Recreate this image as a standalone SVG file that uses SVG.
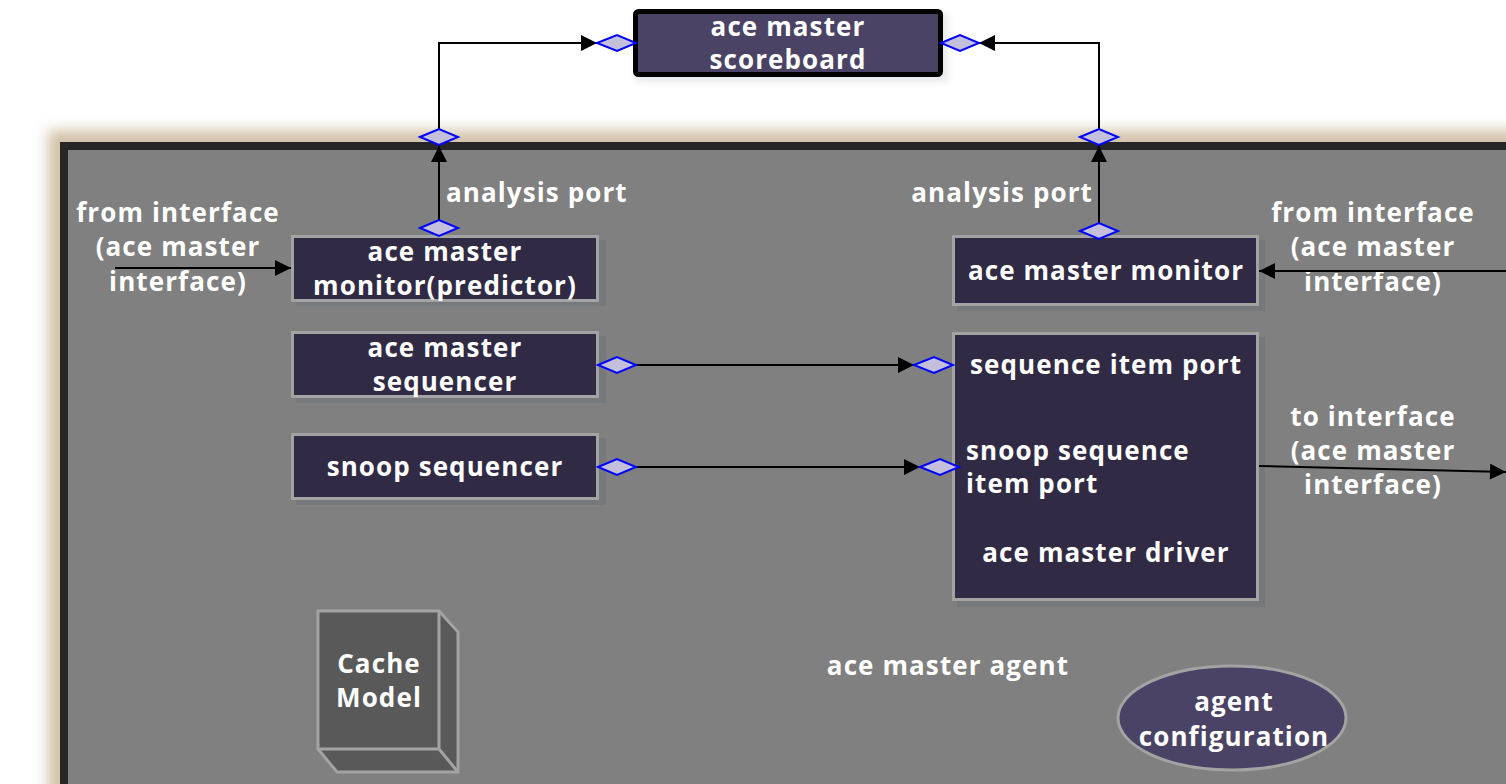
<svg xmlns="http://www.w3.org/2000/svg" width="1506" height="784" viewBox="0 0 1506 784">
  <defs>
    <style>
      text { font-family: "Open Sans", "Liberation Sans", sans-serif; font-weight: bold; font-size: 26px; letter-spacing: 1.1px; fill: #ffffff; text-anchor: middle; dominant-baseline: central; }
      .left { text-anchor: start; }
      .box { fill: #302a45; stroke: #a3a3a3; stroke-width: 3; }
      .shade { fill: #6f7578; opacity: 0.6; }
      .port { fill: #c4c0dc; stroke: #0000ff; stroke-width: 2; }
      .wire { fill: none; stroke: #000000; stroke-width: 2; }
    </style>
    <marker id="arrowBig" viewBox="0 0 10 10" refX="10" refY="5" markerWidth="18" markerHeight="16" markerUnits="userSpaceOnUse" orient="auto">
      <path d="M0,0 L10,5 L0,10 z" fill="#000000"/>
    </marker>
    <filter id="glow" x="-10%" y="-10%" width="120%" height="120%">
      <feGaussianBlur stdDeviation="7"/>
    </filter>
    <filter id="soft" x="-10%" y="-10%" width="120%" height="120%">
      <feGaussianBlur stdDeviation="3"/>
    </filter>
  </defs>

  <rect width="1506" height="784" fill="#ffffff"/>

  <!-- agent container -->
  <g id="agent">
    <rect x="48" y="130" width="1480" height="680" fill="#d2c2a8" filter="url(#glow)"/>
    <rect x="64" y="146" width="1460" height="660" fill="#808080" stroke="#262626" stroke-width="8"/>
    <text x="948" y="665">ace master agent</text>
  </g>

  <!-- scoreboard -->
  <g id="scoreboard">
    <rect x="636" y="14" width="312" height="68" fill="#cfd4dc" opacity="0.5" filter="url(#soft)"/>
    <rect x="635.5" y="11.5" width="305" height="63" rx="3" fill="#4a4365" stroke="#000000" stroke-width="5"/>
    <text x="788" y="26">ace master</text>
    <text x="788" y="59">scoreboard</text>
  </g>

  <!-- monitor (predictor) -->
  <g id="monitor-predictor">
    <rect x="296" y="240" width="310" height="66" class="shade"/>
    <rect x="292.5" y="236.5" width="305" height="64" class="box"/>
    <text x="445" y="251">ace master</text>
    <text x="445" y="285">monitor(predictor)</text>
  </g>

  <!-- sequencer -->
  <g id="sequencer">
    <rect x="296" y="336" width="310" height="67" class="shade"/>
    <rect x="292.5" y="332.5" width="305" height="64" class="box"/>
    <text x="445" y="347">ace master</text>
    <text x="445" y="381">sequencer</text>
  </g>

  <!-- snoop sequencer -->
  <g id="snoop-sequencer">
    <rect x="296" y="438" width="310" height="67" class="shade"/>
    <rect x="292.5" y="434.5" width="305" height="64" class="box"/>
    <text x="445" y="466">snoop sequencer</text>
  </g>

  <!-- monitor -->
  <g id="monitor">
    <rect x="957" y="240" width="308" height="71" class="shade"/>
    <rect x="953.5" y="236.5" width="304" height="68" class="box"/>
    <text x="1106" y="270">ace master monitor</text>
  </g>

  <!-- driver -->
  <g id="driver">
    <rect x="957" y="337" width="308" height="270" class="shade"/>
    <rect x="953.5" y="333.5" width="304" height="266" class="box"/>
    <text x="970" y="364" class="left">sequence item port</text>
    <text x="966" y="450" class="left">snoop sequence</text>
    <text x="966" y="483" class="left">item port</text>
    <text x="1106" y="552">ace master driver</text>
  </g>

  <!-- cache model -->
  <g id="cache-model">
    <path d="M439,611 L458,632 L458,772 L337,772 L318,749 L318,611 Z" fill="#595959" stroke="#a3a3a3" stroke-width="3"/>
    <path d="M318,749 L439,749 L439,611 M439,749 L458,772" fill="none" stroke="#a3a3a3" stroke-width="3"/>
    <text x="379" y="663">Cache</text>
    <text x="379" y="697">Model</text>
  </g>

  <!-- agent configuration -->
  <g id="agent-configuration">
    <ellipse cx="1232" cy="718" rx="114" ry="52" fill="#4a4365" stroke="#a3a3a3" stroke-width="3"/>
    <text x="1234" y="701">agent</text>
    <text x="1234" y="736">configuration</text>
  </g>

  <!-- free labels -->
  <g id="labels">
    <text x="178" y="212">from interface</text>
    <text x="178" y="246">(ace master</text>
    <text x="178" y="281">interface)</text>
    <text x="1373" y="212">from interface</text>
    <text x="1373" y="246">(ace master</text>
    <text x="1373" y="281">interface)</text>
    <text x="1373" y="416">to interface</text>
    <text x="1373" y="450">(ace master</text>
    <text x="1373" y="484">interface)</text>
    <text x="446" y="192" class="left">analysis port</text>
    <text x="1093" y="192" style="text-anchor:end">analysis port</text>
  </g>

  <!-- connectors -->
  <g id="connectors">
    <path class="wire" d="M439,130 L439,43 L597,43" marker-end="url(#arrowBig)"/>
    <path class="wire" d="M1099,130 L1099,43 L979,43" marker-end="url(#arrowBig)"/>
    <path class="wire" d="M439,220 L439,146" marker-end="url(#arrowBig)"/>
    <path class="wire" d="M1099,223 L1099,146" marker-end="url(#arrowBig)"/>
    <path class="wire" d="M636,365 L914,365" marker-end="url(#arrowBig)"/>
    <path class="wire" d="M636,467 L920,467" marker-end="url(#arrowBig)"/>
    <path class="wire" d="M115,268 L291,268" marker-end="url(#arrowBig)"/>
    <path class="wire" d="M1506,271 L1259,271" marker-end="url(#arrowBig)"/>
    <path class="wire" d="M1259,466 L1506,472" marker-end="url(#arrowBig)"/>

    <!-- ports -->
    <polygon class="port" points="597,43 617,35 636,43 617,51"/>
    <polygon class="port" points="941,43 960,35 979,43 960,51"/>
    <polygon class="port" points="420,137 439,129 458,137 439,145"/>
    <polygon class="port" points="1080,137 1099,129 1118,137 1099,145"/>
    <polygon class="port" points="420,228 439,220 458,228 439,236"/>
    <polygon class="port" points="1080,231 1099,223 1118,231 1099,239"/>
    <polygon class="port" points="598,365 617,357 636,365 617,373"/>
    <polygon class="port" points="914,365 934,357 953,365 934,373"/>
    <polygon class="port" points="598,467 617,459 636,467 617,475"/>
    <polygon class="port" points="920,467 940,459 959,467 940,475"/>
  </g>
</svg>
